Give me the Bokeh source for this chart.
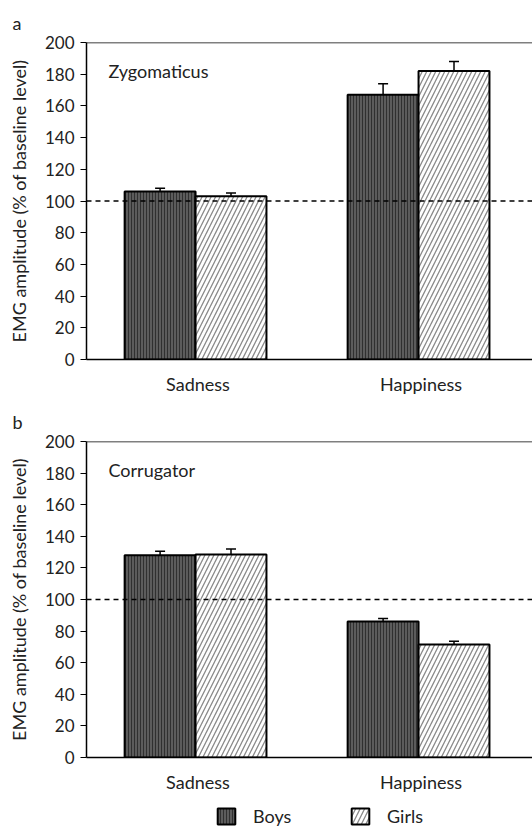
from bokeh.plotting import figure
from bokeh.layouts import column
from bokeh.models import (ColumnDataSource, Whisker, Span, Label, Legend, LegendItem,
                          FixedTicker, TeeHead, Range1d)
from bokeh.transform import dodge
from bokeh.embed import file_html
from bokeh.resources import INLINE

emotions = ["Sadness", "Happiness"]
groups = ["Boys", "Girls"]

# Panel a: Zygomaticus
zyg_boys = [106, 167]
zyg_boys_err = [2, 7]
zyg_girls = [103, 182]
zyg_girls_err = [2, 6]

# Panel b: Corrugator
cor_boys = [128, 86]
cor_boys_err = [2.5, 2]
cor_girls = [128.5, 71.5]
cor_girls_err = [3.5, 2]

yticks = [0, 20, 40, 60, 80, 100, 120, 140, 160, 180, 200]

FONT = "Lato"
TXT = "#222222"
OFF_B = -0.170
OFF_G = 0.148
BW = 0.318
W = 532

BOYS_STYLE = dict(fill_color="#5c5c5c", line_color="black", line_width=2,
                  hatch_pattern="vertical_line", hatch_color="#303030", hatch_scale=3, hatch_weight=1)
GIRLS_STYLE = dict(fill_color="white", line_color="black", line_width=2,
                   hatch_pattern="right_diagonal_line", hatch_color="#8a8a8a", hatch_scale=9,
                   hatch_weight=1.3)


def make_panel(letter, muscle, boys, boys_err, girls, girls_err, height, top, bottom, standoff):
    p = figure(x_range=emotions, y_range=Range1d(0, 200), width=W, height=height,
               output_backend="svg", toolbar_location=None,
               min_border_left=86, min_border_right=0, min_border_top=top, min_border_bottom=bottom)
    p.outline_line_color = None
    p.grid.visible = False

    src = ColumnDataSource(dict(
        cat=emotions, boys=boys, girls=girls,
        boys_up=[v + e for v, e in zip(boys, boys_err)],
        girls_up=[v + e for v, e in zip(girls, girls_err)],
    ))

    p.vbar(x=dodge("cat", OFF_B, range=p.x_range), top="boys", width=BW, source=src, **BOYS_STYLE)
    p.vbar(x=dodge("cat", OFF_G, range=p.x_range), top="girls", width=BW, source=src, **GIRLS_STYLE)

    for field, upper, off in (("boys", "boys_up", OFF_B), ("girls", "girls_up", OFF_G)):
        w = Whisker(base=dodge("cat", off, range=p.x_range), lower=field, upper=upper, source=src,
                    line_color="black", line_width=1.5, lower_head=None,
                    upper_head=TeeHead(size=10, line_color="black", line_width=1.5))
        p.add_layout(w)

    p.add_layout(Span(location=100, dimension="width", line_color="black", line_width=1.5,
                      line_dash="5 4"))
    p.add_layout(Span(location=200, dimension="width", line_color="black", line_width=1.5))

    p.yaxis.ticker = FixedTicker(ticks=yticks)
    p.yaxis.axis_label = "EMG amplitude (% of baseline level)"
    p.yaxis.axis_label_text_font = FONT
    p.yaxis.axis_label_text_font_style = "normal"
    p.yaxis.axis_label_text_font_size = "18px"
    p.yaxis.axis_label_text_color = TXT
    p.yaxis.axis_label_standoff = 12
    p.yaxis.major_label_text_font = FONT
    p.yaxis.major_label_text_font_size = "17px"
    p.yaxis.major_label_text_color = TXT
    p.yaxis.major_label_standoff = 6
    p.yaxis.major_tick_out = 6
    p.yaxis.major_tick_in = 0
    p.yaxis.minor_tick_line_color = None
    p.yaxis.axis_line_width = 1.5
    p.yaxis.major_tick_line_width = 1.2

    p.xaxis.major_tick_line_color = None
    p.xaxis.minor_tick_line_color = None
    p.xaxis.axis_line_width = 1.5
    p.xaxis.major_label_text_font = FONT
    p.xaxis.major_label_text_font_size = "18px"
    p.xaxis.major_label_text_color = TXT
    p.xaxis.major_label_standoff = 7

    # panel letter
    p.title.text = letter
    p.title.text_font = FONT
    p.title.text_font_size = "18px"
    p.title.text_font_style = "normal"
    p.title.text_color = TXT
    p.title.offset = -74
    p.title.standoff = standoff

    p.add_layout(Label(x=22, y=182, x_units="screen", y_units="data", text=muscle,
                       text_baseline="middle",
                       text_font=FONT, text_font_size="18px", text_color=TXT))
    return p


pa = make_panel("a", "Zygomaticus", zyg_boys, zyg_boys_err, zyg_girls, zyg_girls_err,
                height=400, top=42, bottom=41, standoff=18)
pb = make_panel("b", "Corrugator", cor_boys, cor_boys_err, cor_girls, cor_girls_err,
                height=396, top=41, bottom=39, standoff=17)

# legend strip: the tiny dummy bars sit underneath the opaque (white) legend box,
# so only their legend swatches are seen
pl = figure(width=W, height=32, x_range=Range1d(0, 1), y_range=Range1d(0, 1),
            output_backend="svg", toolbar_location=None,
            min_border_left=0, min_border_right=0, min_border_top=0, min_border_bottom=0)
pl.axis.visible = False
pl.grid.visible = False
pl.outline_line_color = None
dummy = ColumnDataSource(dict(x=[0.5], bottom=[0.3], top=[0.4]))
lb = pl.vbar(x="x", bottom="bottom", top="top", width=0.01, source=dummy, **BOYS_STYLE)
lgr = pl.vbar(x="x", bottom="bottom", top="top", width=0.01, source=dummy, **GIRLS_STYLE)
lg = Legend(items=[LegendItem(label=groups[0], renderers=[lb]),
                   LegendItem(label=groups[1], renderers=[lgr])],
            orientation="horizontal", location=(129, 1),
            glyph_width=22, glyph_height=20, label_standoff=16, label_width=60,
            spacing=36, border_line_color=None,
            background_fill_color="white", background_fill_alpha=1.0,
            label_text_font=FONT, label_text_font_size="18px", label_text_color=TXT,
            padding=0, margin=0)
pl.add_layout(lg)

layout = column(pa, pb, pl, spacing=0)
open("out.html", "w").write(file_html(layout, INLINE))
